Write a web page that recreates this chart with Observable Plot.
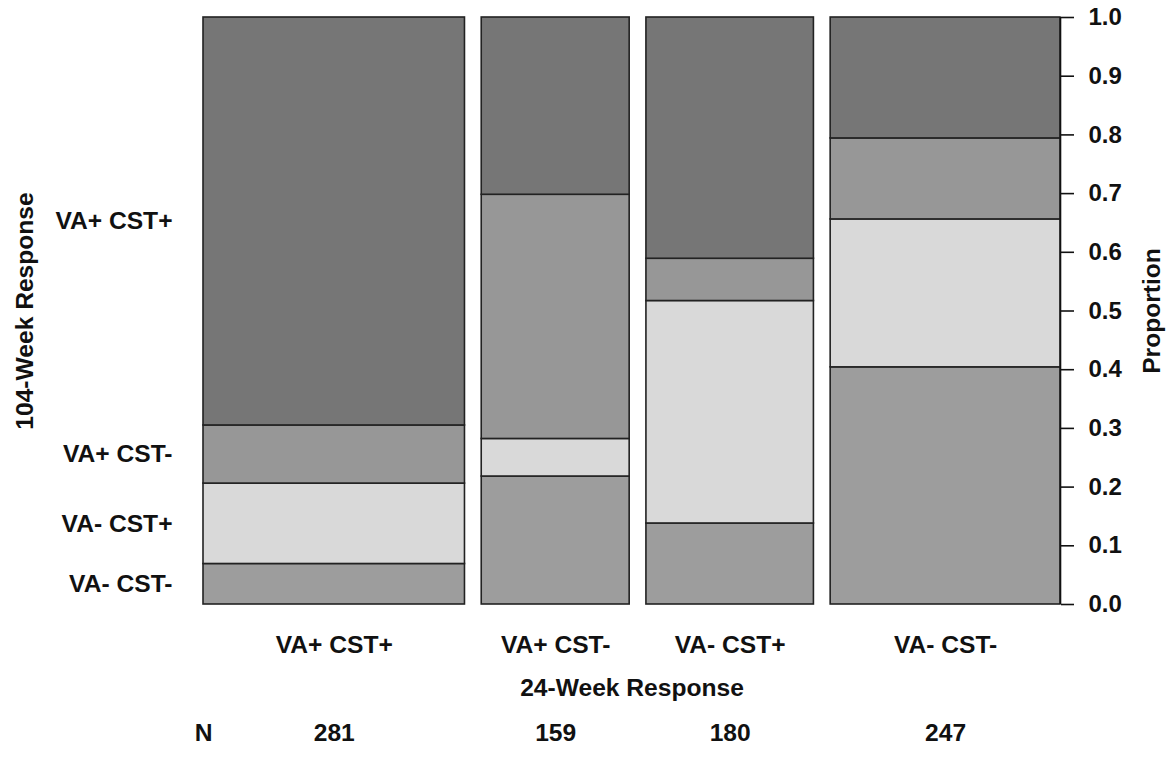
<!DOCTYPE html>
<html>
<head>
<meta charset="utf-8">
<script src="https://cdn.jsdelivr.net/npm/d3@7"></script>
<script src="https://cdn.jsdelivr.net/npm/@observablehq/plot@0.6"></script>
<style>
  html, body { margin: 0; padding: 0; background: #fff; }
</style>
</head>
<body>
<div id="chart"></div>
<script>
// 24-week response categories (columns) and their N
const weeks24 = ["VA+ CST+", "VA+ CST-", "VA- CST+", "VA- CST-"];
const counts = [281, 159, 180, 247];

// 104-week response levels, stacked bottom to top
const weeks104 = ["VA- CST-", "VA- CST+", "VA+ CST-", "VA+ CST+"];
// proportions of each 104-week level within each 24-week column
const pVAmCSTm = [0.069, 0.218, 0.138, 0.404];
const pVAmCSTp = [0.137, 0.064, 0.379, 0.252];
const pVApCSTm = [0.099, 0.416, 0.072, 0.138];
const pVApCSTp = [0.695, 0.302, 0.411, 0.206];

const yTicks = [0, 0.1, 0.2, 0.3, 0.4, 0.5, 0.6, 0.7, 0.8, 0.9, 1.0];

const fills = ["#9d9d9d", "#d9d9d9", "#979797", "#767676"];
const gap = 18; // spacing between columns, in count units

const props = [pVAmCSTm, pVAmCSTp, pVApCSTm, pVApCSTp];
const cols = [];
let xs = 0;
weeks24.forEach((name, i) => {
  cols.push({name, n: counts[i], x1: xs, x2: xs + counts[i], xc: xs + counts[i] / 2});
  xs += counts[i] + gap;
});
const xMax = xs - gap;

const cells = [];
cols.forEach((c, i) => {
  let cum = 0;
  weeks104.forEach((lev, j) => {
    const p = props[j][i];
    cells.push({col: c.name, level: lev, x1: c.x1, x2: c.x2, y1: cum, y2: cum + p, fill: fills[j]});
    cum += p;
  });
});
// left labels positioned at the midpoints of the first column's segments
const leftLabels = cells.filter(d => d.col === weeks24[0]).map(d => ({level: d.level, y: (d.y1 + d.y2) / 2}));

const font = "Liberation Sans, Arial, Helvetica, sans-serif";
const fs = 24.6;
const fsTick = 24;

const chart = Plot.plot({
  width: 1175,
  height: 759,
  marginTop: 17,
  marginBottom: 155,
  marginLeft: 203,
  marginRight: 115,
  x: {domain: [0, xMax], axis: null},
  y: {domain: [0, 1], axis: null},
  style: {fontFamily: font, fontSize: fs + "px", fontWeight: "bold", color: "#111", background: "#fff"},
  marks: [
    Plot.rect(cells, {x1: "x1", x2: "x2", y1: "y1", y2: "y2", fill: "fill", stroke: "#222", strokeWidth: 1.6}),
    Plot.ruleX([xMax], {y1: 0, y2: 1, stroke: "#111", strokeWidth: 1.6}),
    Plot.axisY(yTicks, {anchor: "right", tickFormat: d3.format(".1f"), tickSize: 13, tickPadding: 15, strokeWidth: 1.6, stroke: "#111", fill: "#111", fontSize: fsTick, fontWeight: "bold"}),
    Plot.text(leftLabels, {y: "y", text: "level", frameAnchor: "left", dx: -31, textAnchor: "end", fontSize: fs, fontWeight: "bold", fill: "#111"}),
    Plot.text(["104-Week Response"], {frameAnchor: "left", dx: -178, rotate: -90, textAnchor: "middle", fontSize: fs, fontWeight: "bold", fill: "#111"}),
    Plot.text(["Proportion"], {frameAnchor: "right", dx: 92, rotate: -90, textAnchor: "middle", fontSize: fs, fontWeight: "bold", fill: "#111"}),
    Plot.text(cols, {x: "xc", text: "name", frameAnchor: "bottom", dy: 48, fontSize: fs, fontWeight: "bold", fill: "#111"}),
    Plot.text(["24-Week Response"], {frameAnchor: "bottom", dy: 91, fontSize: fs, fontWeight: "bold", fill: "#111"}),
    Plot.text(cols, {x: "xc", text: d => String(d.n), frameAnchor: "bottom", dy: 136, fontSize: fs, fontWeight: "bold", fill: "#111"}),
    Plot.text(["N"], {frameAnchor: "bottom-left", dy: 136, textAnchor: "middle", fontSize: fs, fontWeight: "bold", fill: "#111"})
  ]
});
document.getElementById("chart").appendChild(chart);
</script>
</body>
</html>
